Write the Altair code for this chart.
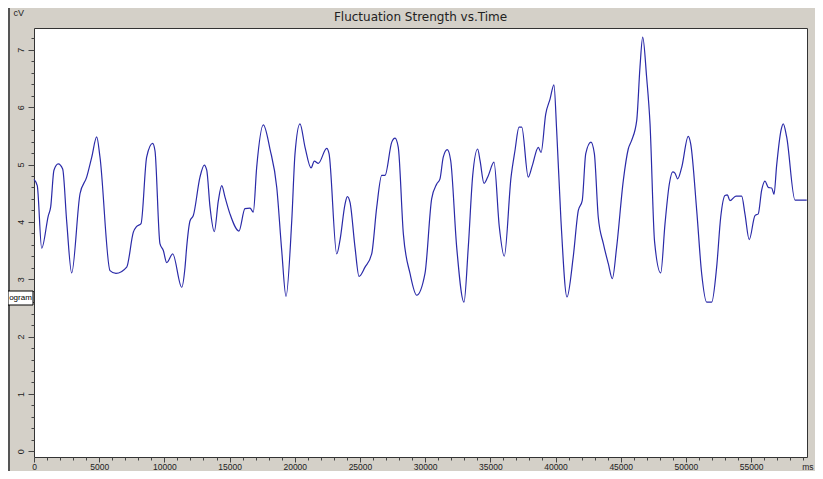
import altair as alt
import pandas as pd

time_ms = [0,250,590,1100,1280,1530,1860,2200,2510,2890,
           3530,4040,4430,4810,5060,5830,6290,7110,7620,7880,
           8210,8640,9100,9280,9660,9920,10180,10640,11330,11580,
           11710,11970,12220,12730,13060,13250,13500,13830,14140,14400,
           14650,15030,15720,16180,16570,16820,17080,17590,18100,18620,
           19000,19330,19770,20020,20400,20790,21250,21500,21810,22450,
           22630,23220,23470,23850,24030,24240,24620,24930,25390,25900,
           26290,26670,26920,27440,27690,27940,28330,28840,29350,29990,
           30500,30890,31140,31390,31700,31960,32420,32980,33310,33650,
           34030,34210,34520,34850,35280,35690,36070,36590,36890,37200,
           37410,37910,38220,38680,38890,39250,39580,39880,40090,40420,
           40880,41360,41750,42050,42320,42720,42980,43280,43670,44050,
           44360,44690,45200,45580,45840,46230,46480,46690,46990,47250,
           47600,48070,48400,48730,48990,49160,49370,49680,50180,50370,
           50830,51210,51600,51980,52360,52670,53000,53180,53380,53840,
           54280,54530,54860,55300,55550,55810,56070,56320,56580,56760,
           56960,57300,57470,57730,58370,59270]

strength_cv = [4.74,4.63,3.54,4.11,4.26,4.90,5.01,4.92,4.00,3.11,
               4.49,4.78,5.13,5.48,5.13,3.15,3.10,3.21,3.82,3.92,
               3.97,5.13,5.37,5.24,3.62,3.50,3.29,3.44,2.86,3.20,
               3.56,4.02,4.11,4.78,4.99,4.90,4.26,3.83,4.37,4.63,
               4.43,4.14,3.84,4.23,4.24,4.17,4.95,5.69,5.27,4.60,
               3.50,2.70,4.02,5.19,5.71,5.30,4.94,5.06,5.02,5.28,
               5.19,3.44,3.68,4.30,4.44,4.34,3.56,3.05,3.21,3.44,
               4.26,4.81,4.81,5.39,5.46,5.30,3.79,3.10,2.72,3.10,
               4.40,4.66,4.75,5.13,5.26,5.07,3.56,2.60,3.56,4.81,
               5.27,5.07,4.67,4.81,5.04,3.91,3.40,4.78,5.24,5.65,
               5.65,4.78,4.98,5.30,5.21,5.88,6.14,6.39,5.59,4.02,
               2.69,3.39,4.20,4.37,5.19,5.39,5.19,4.08,3.62,3.27,
               3.01,3.56,4.72,5.27,5.42,5.77,6.70,7.22,6.52,5.71,
               3.65,3.11,3.97,4.66,4.87,4.85,4.75,4.95,5.49,5.36,
               4.20,3.10,2.60,2.60,3.21,4.08,4.46,4.47,4.37,4.45,
               4.45,4.14,3.69,4.11,4.14,4.55,4.71,4.60,4.59,4.48,
               4.98,5.60,5.71,5.48,4.38,4.38]

x_ticks = [i * 1000 for i in range(60)]
y_ticks = [round(i * 0.2, 1) for i in range(37)]

chart_title = "Fluctuation Strength vs.Time"
y_unit = "cV"
x_unit = "ms"
tooltip_fragment = "ogram"

df = pd.DataFrame({"t": time_ms, "v": strength_cv})

FONT = "Liberation Sans"

x_axis = alt.Axis(
    values=x_ticks,
    labelExpr="datum.value % 5000 === 0 ? format(datum.value, 'd') : ''",
    tickSize={"condition": {"test": "datum.value % 5000 === 0", "value": 5}, "value": 3},
    tickColor="#444", domain=False, grid=False,
    labelFont=FONT, labelFontSize=8.5, labelColor="#222", labelPadding=0,
    labelOverlap=False, labelFlush=False,
    title=x_unit, titleFont=FONT, titleFontSize=8.5, titleFontWeight="normal",
    titleColor="#222", titleAngle=0, titleX=779, titleY=9,
    titleAlign="right", titleBaseline="middle",
)

y_axis = alt.Axis(
    values=y_ticks,
    labelExpr="datum.value % 1 === 0 ? format(datum.value, 'd') : ''",
    tickSize={"condition": {"test": "datum.value % 1 === 0", "value": 6}, "value": 3},
    tickColor="#444", domain=False, grid=False,
    labelFont=FONT, labelFontSize=9, labelColor="#222", labelPadding=3,
    labelAngle=270, labelAlign="center", labelBaseline="bottom",
    labelOverlap=False, labelFlush=False,
    title=y_unit, titleFont=FONT, titleFontSize=9, titleFontWeight="normal",
    titleColor="#222", titleAngle=0, titleX=-21, titleY=-16,
    titleAlign="left", titleBaseline="middle",
)

line = alt.Chart(df).mark_line(
    color="#2a2aa8", strokeWidth=1.2, interpolate="monotone"
).encode(
    x=alt.X("t:Q", scale=alt.Scale(domain=[0, 59290], nice=False, zero=False), axis=x_axis),
    y=alt.Y("v:Q", scale=alt.Scale(domain=[-0.1, 7.38], nice=False, zero=False), axis=y_axis),
)

one = pd.DataFrame({"k": [0]})

title_mark = alt.Chart(one).mark_text(
    text=chart_title, align="center", baseline="middle",
    font="DejaVu Sans", fontSize=12, color="#222"
).encode(x=alt.value(386.5), y=alt.value(-11))

edge = alt.Chart(one).mark_rule(color="#555", strokeWidth=2).encode(
    x=alt.value(-25), y=alt.value(-20), y2=alt.value(443)
)

tip_box = alt.Chart(one).mark_rect(fill="white", stroke="black", strokeWidth=1).encode(
    x=alt.value(-26), x2=alt.value(-1), y=alt.value(263), y2=alt.value(277)
)

tip_text = alt.Chart(one).mark_text(
    text=tooltip_fragment, align="center", baseline="middle", font=FONT, fontSize=8, color="black"
).encode(x=alt.value(-13.5), y=alt.value(270))

chart = alt.layer(line, title_mark, edge, tip_box, tip_text).properties(
    width=773,
    height=429,
    autosize=alt.AutoSizeParams(type="none"),
    padding={"left": 26, "top": 20, "right": 8, "bottom": 14},
    background="#d4d0c8",
).configure_view(
    fill="white", stroke="#333", strokeWidth=1
)

chart.save("out.html", embed_options={"renderer": "svg", "actions": False})
